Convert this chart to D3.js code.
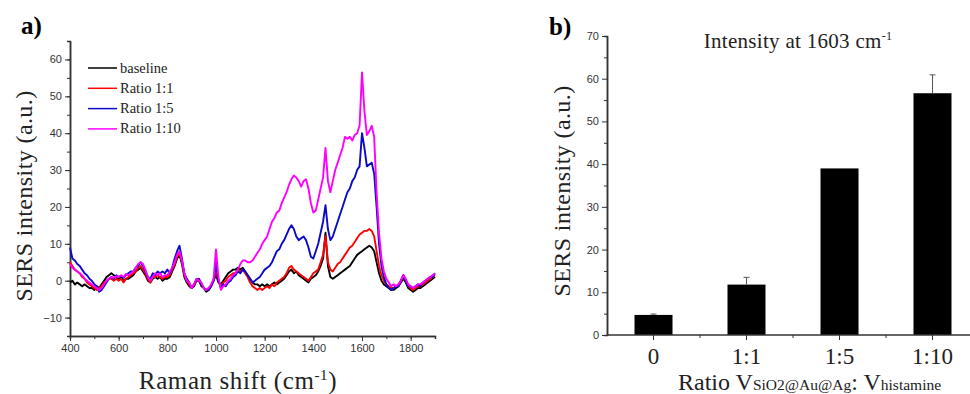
<!DOCTYPE html>
<html>
<head>
<meta charset="utf-8">
<script src="https://cdn.jsdelivr.net/npm/d3@7"></script>
<style>
  body { margin: 0; background: #fff; }
  svg { display: block; }
  .tick text { font-family: "Liberation Sans", Arial, sans-serif; font-size: 11px; fill: #333; }
  .domain, .tick line { stroke: #333; }
</style>
</head>
<body>
<svg id="chart" width="970" height="394"></svg>
<script>
// panel a: Raman shift grid (cm-1), one value every 10 cm-1
const shift = d3.range(400, 1901, 10);

const baseline = [
  -0.5, 0, -1, -0.5, -1, -1.5, -1, -1.5, -2, -2,
  -2.5, -1.5, -2, -1, 0, 1, 1.5, 2, 1.5, 1,
  0.5, 1, 0, 0.5, 0.5, 1, 1.5, 2.5, 3, 3.5,
  2.5, 1.5, 0, -0.5, 0.5, 1, 0.5, 1, 0, 0.5,
  0.5, 1, 2.5, 4, 6, 7, 4.5, 1, -0.5, -1.5,
  -2, -1.5, 0, 0, -1.5, -2, -3, -2.5, -1.5, 0,
  1.5, -0.5, -1, 0, 1, 2, 2.5, 3, 3, 3.5,
  3, 3.5, 2.5, 1.5, 0.5, -0.5, -1, -1, -1.5, -1,
  -1.5, -1, -1.5, -1, -0.5, -1, -0.5, 0, 0.5, 1.5,
  2.5, 3, 2, 2.5, 1.5, 1, 0.5, 0, -0.5, 0.5,
  1, 1.5, 2.5, 4, 6, 13, 4, 1, 0.5, 1,
  1.5, 2, 2.5, 3, 3.5, 4, 5, 6, 7, 7.5,
  8, 8.5, 9, 9.5, 9, 8, 5, 2, 0, -1,
  -1.5, -2, -2.5, -2.5, -2, -1.5, -0.5, 0.5, -0.5, -2,
  -2.5, -3, -2.5, -2, -2, -1.5, -1, -0.5, 0, 0.5, 1
];

const ratio11 = [
  5, 4, 3, 2.5, 2, 1, 0.5, -0.5, -1, -1.5,
  -2, -2.5, -2, -1.5, -0.5, 0, 0.5, 0.5, 0, 0.5,
  0, 0.5, -0.5, 0.5, 1, 1.5, 2, 2.5, 3.5, 4,
  3, 2, 0.5, -0.5, 1, 1, 1.5, 1, 0.5, 1,
  1, 1.5, 3, 4.5, 6.5, 7.5, 5, 1.5, 0, -1,
  -2, -1, 0, 0.5, -1, -2, -2.5, -2, -1.5, 0,
  3, 0, -1.5, -0.5, 0, 1, 1.5, 2, 2, 3,
  2.5, 3, 2, 1, -0.5, -1.5, -2, -2.5, -2, -2.5,
  -2, -1.5, -2, -1, -1.5, -0.5, 0, 0.5, 1, 2,
  3.5, 4, 3, 2.5, 2, 1.5, 1, 0.5, 0, 1,
  2, 2.5, 3, 5, 7, 12, 5, 3, 2.5, 3.5,
  4.5, 5, 6, 7, 8, 9, 9.5, 10.5, 11.5, 12.5,
  13, 13.5, 13.5, 14, 13.5, 12, 8, 4, 1.5, 0,
  -1, -1.5, -2, -2, -1.5, -1, 0, 1.5, 0, -1.5,
  -2, -2.5, -2, -1.5, -1.5, -1, -0.5, 0, 0.5, 1, 1.5
];

const ratio15 = [
  9, 6, 5.5, 4.5, 4, 3, 2, 1.5, 0.5, 0,
  -1, -1.5, -3, -2.5, -1.5, -0.5, 0.5, 1, 0.5, 1.5,
  1, 1.2, 0.8, 1.5, 2, 2.5, 2.5, 3.5, 4, 5,
  4, 2.5, 1, 0.5, 2, 1.5, 2.5, 2, 2.5, 2,
  3, 2, 3.5, 6, 8, 9.5, 6, 2, 0.5, -0.5,
  -2, -1, 0.5, 0.5, -1, -2, -2.5, -2.5, -1.5, 0,
  5, 0, -2, -1, -1.5, -0.5, 0, 1, 1.5, 2.5,
  2, 3, 2.5, 1.5, 0.5, -0.5, 0, 0.5, 1, 2,
  3, 3.5, 4, 5, 6.5, 8, 8.5, 10, 11, 12.5,
  14, 15, 14, 12, 11, 11.5, 12, 11, 9, 6.5,
  6, 8, 10, 13, 16, 20.5, 14, 11, 12, 14,
  16, 18, 20, 22, 24, 25, 27, 28, 30, 31,
  40, 36, 31, 31.5, 32, 29, 20, 10, 4, 1,
  -1, -2, -2.5, -2, -1.5, -1.5, 0, 1.5, 0, -1.5,
  -1.5, -2, -1.5, -1, -1.5, -0.5, 0, 0.5, 1, 1, 2
];

const ratio110 = [
  4.5, 3.5, 3, 2.5, 2, 1.5, 0.5, 0, -0.5, -1,
  -1.5, -2, -2.5, -2, -1, 0, 0.5, 1, 0.8, 1.2,
  1, 1.5, 1, 1.8, 1.5, 2, 2.5, 3.5, 4.5, 5,
  4.5, 3, 1, 0, 1, 2, 1.5, 2, 1, 1.5,
  1.5, 2.5, 3.5, 5, 7, 8, 5.5, 2, 0, -0.5,
  -2, -1, 0.5, 0, -0.5, -2, -2.5, -2, -1, 0.5,
  8.5, 1, -2.5, -1.5, -1, 0, 0.5, 1.5, 2, 3,
  4.5, 5.5, 5.5, 5, 5, 5.5, 6.5, 7.5, 8.5, 10,
  11, 12, 14, 16, 17, 18.5, 19, 21, 22.5, 24,
  26, 27.5, 28.5, 28, 27, 25.5, 27, 27.5, 25, 21,
  18.5, 19, 22, 25, 28, 36, 27, 24, 27, 30,
  32, 34, 36, 39, 38.5, 39, 38, 39.5, 40, 42,
  56.5, 46, 39.5, 40.5, 42, 39, 24, 13, 6, 2.5,
  0.5, -0.5, -1.5, -1, -1.5, -1, 0, 1.5, 0.5, -1,
  -1.5, -2, -1.5, -1, -1, -0.5, 0, 0.5, 1, 1.5, 2
];

const seriesNames = ['baseline', 'Ratio 1:1', 'Ratio 1:5', 'Ratio 1:10'];
const seriesColors = ['#000000', '#ff0000', '#0a0ac8', '#ff00ff'];
const seriesValues = [baseline, ratio11, ratio15, ratio110];

// panel b: intensity at 1603 cm-1
const barCats = ['0', '1:1', '1:5', '1:10'];
const barVals = [4.7, 11.8, 39.0, 56.6];
const barErr = [0.2, 1.7, 0, 4.3];

const svg = d3.select('#chart');
const serif = '"Liberation Serif", "Times New Roman", serif';

// ---------- panel a ----------
const xA = d3.scaleLinear().domain([400, 1900]).range([70, 435]);
const yA = d3.scaleLinear().domain([-15, 65]).range([336, 41]);

const gA = svg.append('g');

gA.append('g')
  .attr('transform', 'translate(0,' + yA(-15) + ')')
  .call(d3.axisBottom(xA).tickValues(d3.range(500, 1901, 100)).tickSize(3).tickFormat(''));
gA.append('g')
  .attr('transform', 'translate(0,' + yA(-15) + ')')
  .call(d3.axisBottom(xA).tickValues(d3.range(400, 1801, 200)).tickSize(5).tickSizeOuter(0).tickFormat(d3.format('d')));

gA.append('g')
  .attr('transform', 'translate(' + xA(400) + ',0)')
  .call(d3.axisLeft(yA).tickValues(d3.range(-15, 66, 5)).tickSize(3).tickFormat(''));
gA.append('g')
  .attr('transform', 'translate(' + xA(400) + ',0)')
  .call(d3.axisLeft(yA).tickValues(d3.range(-10, 61, 10)).tickSize(5).tickSizeOuter(0));

gA.selectAll('.domain').attr('stroke-width', 1.5);

const line = d3.line()
  .x((d, i) => xA(shift[i]))
  .y(d => yA(d));

gA.selectAll('.spectrum')
  .data(seriesValues)
  .enter()
  .append('path')
  .attr('class', 'spectrum')
  .attr('d', d => line(d))
  .attr('fill', 'none')
  .attr('stroke', (d, i) => seriesColors[i])
  .attr('stroke-width', 1.9)
  .attr('stroke-linejoin', 'round');

// legend
const legend = gA.append('g').attr('transform', 'translate(88,68)');
seriesNames.forEach((name, i) => {
  const row = legend.append('g').attr('transform', 'translate(0,' + i * 20.3 + ')');
  row.append('line').attr('x1', 0).attr('x2', 29).attr('y1', 0).attr('y2', 0)
    .attr('stroke', seriesColors[i]).attr('stroke-width', 1.5);
  row.append('text').attr('x', 32).attr('y', 4.5)
    .attr('font-family', serif).attr('font-size', 14.5).attr('fill', '#222')
    .text(name);
});

gA.append('text')
  .attr('transform', 'translate(32,196) rotate(-90)')
  .attr('text-anchor', 'middle')
  .attr('font-family', serif).attr('font-size', 24).attr('fill', '#222')
  .attr('letter-spacing', 0.4)
  .text('SERS intensity (a.u.)');

const xlabA = gA.append('text')
  .attr('x', 238).attr('y', 389)
  .attr('text-anchor', 'middle')
  .attr('font-family', serif).attr('font-size', 25).attr('fill', '#222')
  .attr('letter-spacing', 0.6);
xlabA.append('tspan').text('Raman shift (cm');
xlabA.append('tspan').attr('font-size', 15).attr('dy', -9).text('-1');
xlabA.append('tspan').attr('dy', 9).text(')');

gA.append('text')
  .attr('x', 21).attr('y', 34)
  .attr('font-family', serif).attr('font-size', 25).attr('font-weight', 'bold')
  .text('a)');

// ---------- panel b ----------
const xB = d3.scalePoint().domain(barCats).range([607, 979]).padding(0.5);
const yB = d3.scaleLinear().domain([0, 70]).range([335, 36]);
const step = xB.step();
const barW = 38;

const gB = svg.append('g');

gB.append('g')
  .attr('transform', 'translate(' + (xB(barCats[0]) - step / 2) + ',0)')
  .call(d3.axisLeft(yB).tickValues(d3.range(5, 70, 10)).tickSize(3).tickFormat(''));
gB.append('g')
  .attr('transform', 'translate(' + (xB(barCats[0]) - step / 2) + ',0)')
  .call(d3.axisLeft(yB).tickValues(d3.range(0, 71, 10)).tickSize(5).tickSizeOuter(0));

gB.selectAll('.bar')
  .data(barVals)
  .enter()
  .append('rect')
  .attr('class', 'bar')
  .attr('x', (d, i) => xB(barCats[i]) - barW / 2)
  .attr('width', barW)
  .attr('y', d => yB(d))
  .attr('height', d => yB(0) - yB(d))
  .attr('fill', '#000');

const errG = gB.selectAll('.err')
  .data(barVals.map((v, i) => ({v: v, e: barErr[i], c: barCats[i]})).filter(d => d.e > 0))
  .enter()
  .append('g')
  .attr('class', 'err')
  .attr('stroke', '#555')
  .attr('stroke-width', 1);
errG.append('line')
  .attr('x1', d => xB(d.c)).attr('x2', d => xB(d.c))
  .attr('y1', d => yB(d.v)).attr('y2', d => yB(d.v + d.e));
errG.append('line')
  .attr('x1', d => xB(d.c) - 3).attr('x2', d => xB(d.c) + 3)
  .attr('y1', d => yB(d.v + d.e)).attr('y2', d => yB(d.v + d.e));

// x axis with category ticks and minor ticks between
const xAxisB = gB.append('g').attr('transform', 'translate(0,' + yB(0) + ')');
xAxisB.append('line')
  .attr('x1', xB(barCats[0]) - step / 2).attr('x2', 970)
  .attr('stroke', '#333').attr('stroke-width', 1.5);
xAxisB.selectAll('.maj')
  .data(barCats).enter().append('line')
  .attr('x1', d => xB(d)).attr('x2', d => xB(d))
  .attr('y1', 0).attr('y2', 5).attr('stroke', '#333');
xAxisB.selectAll('.min')
  .data(barCats.slice(1)).enter().append('line')
  .attr('x1', d => xB(d) - step / 2).attr('x2', d => xB(d) - step / 2)
  .attr('y1', 0).attr('y2', 3).attr('stroke', '#333');
xAxisB.selectAll('.lab')
  .data(barCats).enter().append('text')
  .attr('x', d => xB(d)).attr('y', 29)
  .attr('text-anchor', 'middle')
  .attr('font-family', serif).attr('font-size', 23).attr('fill', '#222')
  .text(d => d);

gB.selectAll('.domain').attr('stroke-width', 1.5);

gB.append('text')
  .attr('transform', 'translate(570,191) rotate(-90)')
  .attr('text-anchor', 'middle')
  .attr('font-family', serif).attr('font-size', 24).attr('fill', '#222')
  .attr('letter-spacing', 0.4)
  .text('SERS intensity (a.u.)');

const title = gB.append('text')
  .attr('x', 798).attr('y', 48)
  .attr('text-anchor', 'middle')
  .attr('font-family', serif).attr('font-size', 21).attr('fill', '#222')
  .attr('letter-spacing', 0.3);
title.append('tspan').text('Intensity at 1603 cm');
title.append('tspan').attr('font-size', 12).attr('dy', -8).text('-1');

const xlabB = gB.append('text')
  .attr('x', 678).attr('y', 390)
  .attr('font-family', serif).attr('font-size', 24).attr('fill', '#222');
xlabB.append('tspan').text('Ratio  V');
xlabB.append('tspan').attr('font-size', 15.5).text('SiO2@Au@Ag');
xlabB.append('tspan').text(':  V');
xlabB.append('tspan').attr('font-size', 15.5).text('histamine');

gB.append('text')
  .attr('x', 549).attr('y', 35)
  .attr('font-family', serif).attr('font-size', 25).attr('font-weight', 'bold')
  .text('b)');
</script>
</body>
</html>
